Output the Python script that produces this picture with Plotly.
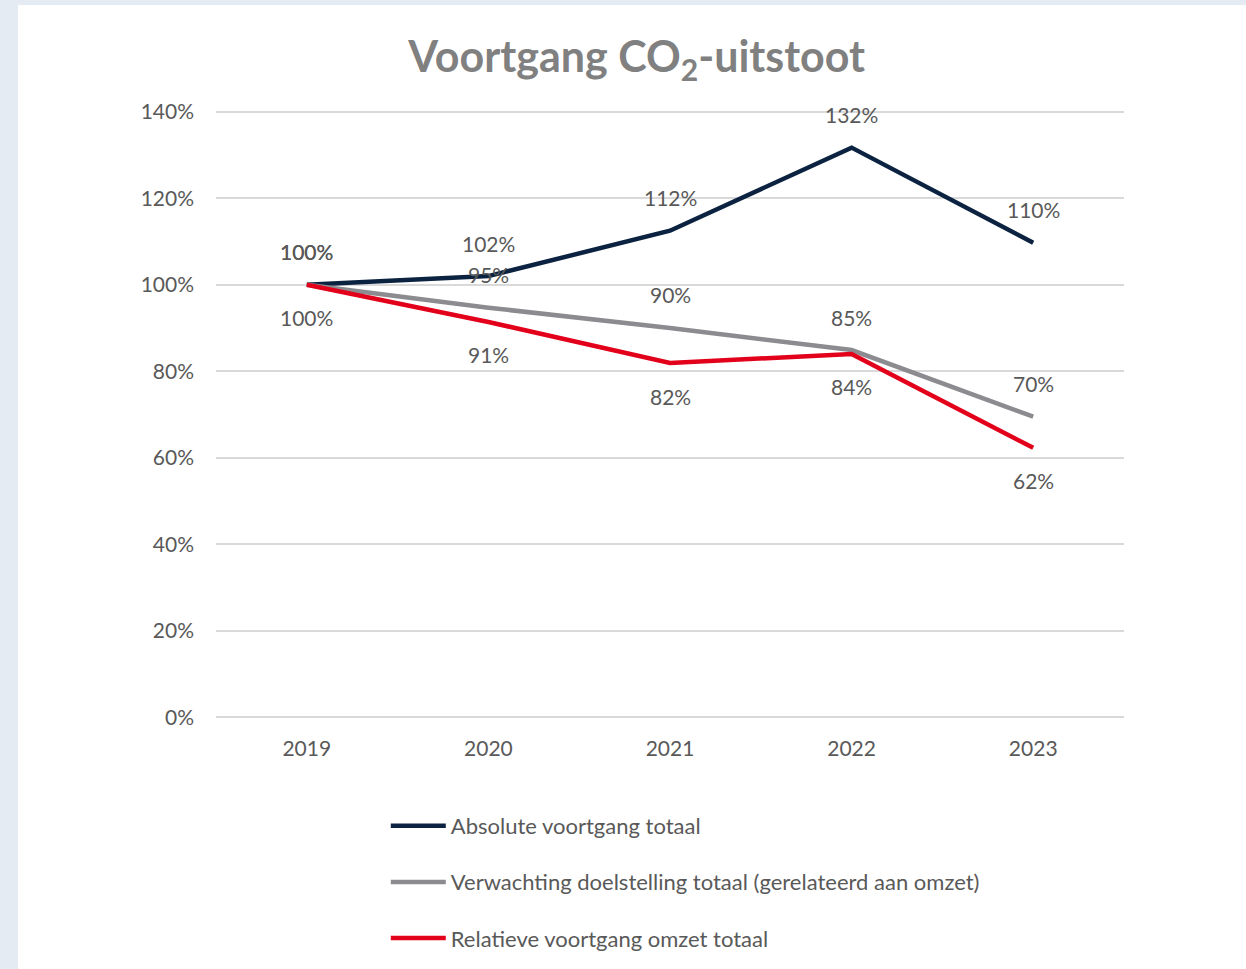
import plotly.graph_objects as go

years = ["2019", "2020", "2021", "2022", "2023"]
absolute = [1.00, 1.02, 1.125, 1.317, 1.097]
target = [1.00, 0.947, 0.90, 0.849, 0.695]
relative = [1.00, 0.914, 0.819, 0.840, 0.623]

series_names = [
    "Absolute voortgang totaal",
    "Verwachting doelstelling totaal (gerelateerd aan omzet)",
    "Relatieve voortgang omzet totaal",
]
series_values = [absolute, target, relative]
series_colors = ["#0b2341", "#8b8b90", "#e2001a"]
label_side = [1, 1, -1]

y_ticks = [0, 0.2, 0.4, 0.6, 0.8, 1.0, 1.2, 1.4]

FONT = "Lato"
TXT = "#595959"

fig = go.Figure()
for i, (name, vals, col) in enumerate(zip(series_names, series_values, series_colors)):
    fig.add_trace(go.Scatter(
        x=years, y=vals, name=name, mode="lines",
        line=dict(color=col, width=4.5),
        legendgroup=f"g{i}",
    ))

annotations = []
for vals, side in zip(series_values, label_side):
    for idx, v in enumerate(vals):
        annotations.append(dict(
            x=idx, y=v, xref="x", yref="y", text=f"{round(v*100):.0f}%",
            showarrow=False, yshift=33 * side,
            font=dict(family=FONT, size=21, color=TXT),
        ))

# plot area 110..719 px; pad the y range so the 0% and 140% grid lines are drawn
fig.update_layout(
    width=1246, height=969,
    margin=dict(l=216, r=122, t=110, b=250, autoexpand=False),
    paper_bgcolor="#e4ebf3",
    plot_bgcolor="rgba(0,0,0,0)",
    font=dict(family=FONT, color=TXT),
    title=dict(
        text="Voortgang CO<sub>2</sub>-uitstoot",
        x=0.511, xanchor="center", y=0.941, yanchor="middle",
        font=dict(family=FONT, size=43, color="#808080", weight="bold"),
    ),
    xaxis=dict(
        type="category", range=[-0.5, 4.5], showgrid=False, showline=False,
        ticks="", ticklabelstandoff=15,
        tickfont=dict(family=FONT, size=21, color=TXT),
        fixedrange=True,
    ),
    yaxis=dict(
        range=[-0.004, 1.404], tickvals=y_ticks, tickformat=".0%",
        showgrid=True, gridcolor="#d9d9d9", gridwidth=1.5,
        zeroline=False, showline=False, ticks="",
        ticklabelstandoff=21,
        tickfont=dict(family=FONT, size=21, color=TXT),
    ),
    legend=dict(
        orientation="v", x=0.187, xanchor="left", y=-0.1412, yanchor="top",
        font=dict(family=FONT, size=22, color=TXT),
        tracegroupgap=24.5, itemwidth=55, bgcolor="rgba(0,0,0,0)",
    ),
    annotations=annotations,
    shapes=[dict(
        type="rect", xref="paper", yref="paper", layer="below",
        x0=(18 - 216) / 908, x1=1.2,
        y0=-0.45, y1=(719 - 5) / 609,
        fillcolor="white", line=dict(width=0),
    )],
    showlegend=True,
)

fig.write_html("out.html", config={"displayModeBar": False},
               post_script="document.body.style.margin='0';")
